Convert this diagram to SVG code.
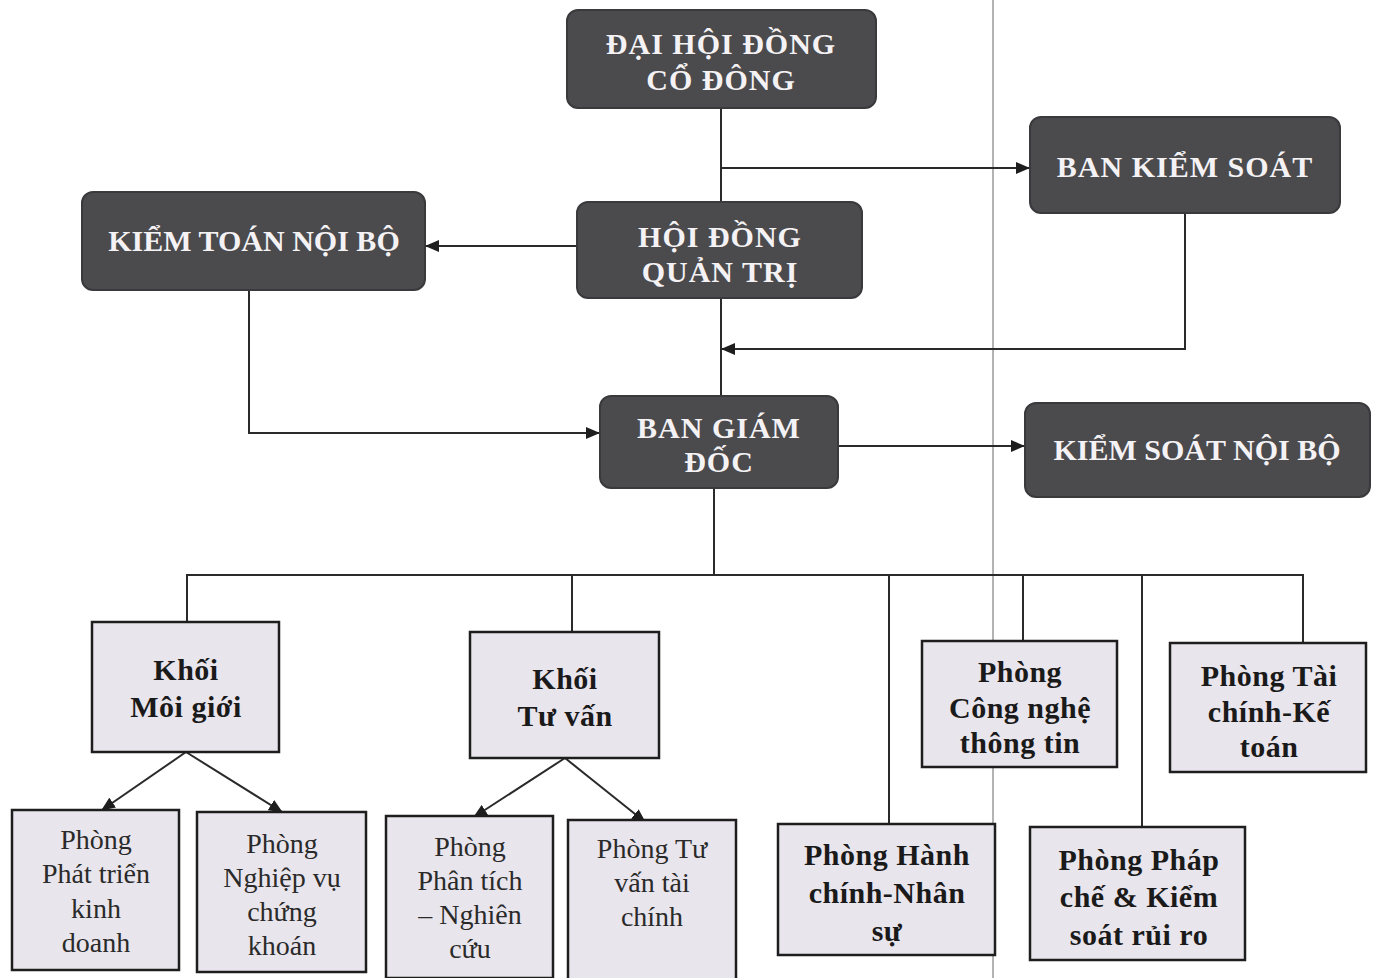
<svg xmlns="http://www.w3.org/2000/svg" width="1377" height="978" viewBox="0 0 1377 978">
<defs>
<marker id="ah" markerWidth="14" markerHeight="12" refX="13" refY="6" orient="auto" markerUnits="userSpaceOnUse">
<path d="M0,0 L14,6 L0,12 Z" fill="#1e1e1e"/>
</marker>
<style>
.dk{fill:#4b4a4d;stroke:#3a393c;stroke-width:2}
text{font-family:'Liberation Serif','DejaVu Serif',serif}
.dt{font-weight:bold;font-size:30px;fill:#f4f2f4;text-anchor:middle;letter-spacing:1px}
.ns{letter-spacing:0px}
.lt{fill:#e9e5ec;stroke:#1e1e1e;stroke-width:2.5}
.bt{font-weight:bold;font-size:30px;fill:#1a1a1a;text-anchor:middle;letter-spacing:0.5px}
.nt{font-size:28px;fill:#2a2a2a;text-anchor:middle}
.cn{fill:none;stroke:#2a2a2a;stroke-width:2}
</style>
</defs>
<rect width="1377" height="978" fill="#ffffff"/>
<line x1="993" y1="0" x2="993" y2="978" stroke="#9a9a9a" stroke-width="1.5"/>
<g id="connectors">
<path class="cn" d="M721,108 V396"/>
<path class="cn" d="M721,168 H1029" marker-end="url(#ah)"/>
<path class="cn" d="M577,246 H426" marker-end="url(#ah)"/>
<path class="cn" d="M1185,213 V349 H722" marker-end="url(#ah)"/>
<path class="cn" d="M249,290 V433 H599" marker-end="url(#ah)"/>
<path class="cn" d="M838,446 H1024" marker-end="url(#ah)"/>
<path class="cn" d="M714,488 V575"/>
<path class="cn" d="M187,622 V575 H1303 V643"/>
<path class="cn" d="M572,575 V632"/>
<path class="cn" d="M889,575 V825"/>
<path class="cn" d="M1023,575 V641"/>
<path class="cn" d="M1142,575 V828"/>
<path class="cn" d="M186,752 L102,810" marker-end="url(#ah)"/>
<path class="cn" d="M186,752 L282,812" marker-end="url(#ah)"/>
<path class="cn" d="M565,758 L474,817" marker-end="url(#ah)"/>
<path class="cn" d="M565,758 L645,822" marker-end="url(#ah)"/>
</g>
<g id="dhdcd"><rect class="dk" x="567" y="10" width="309" height="98" rx="11"/>
<text class="dt" x="721" y="54">ĐẠI HỘI ĐỒNG</text><text class="dt" x="721" y="90">CỔ ĐÔNG</text></g>
<g id="bks"><rect class="dk" x="1030" y="117" width="310" height="96" rx="11"/>
<text class="dt" x="1185" y="177">BAN KIỂM SOÁT</text></g>
<g id="ktnb"><rect class="dk" x="82" y="192" width="343" height="98" rx="11"/>
<text class="dt ns" x="254" y="251">KIỂM TOÁN NỘI BỘ</text></g>
<g id="hdqt"><rect class="dk" x="577" y="202" width="285" height="96" rx="11"/>
<text class="dt" x="720" y="247">HỘI ĐỒNG</text><text class="dt" x="720" y="282">QUẢN TRỊ</text></g>
<g id="bgd"><rect class="dk" x="600" y="396" width="238" height="92" rx="11"/>
<text class="dt" x="719" y="438">BAN GIÁM</text><text class="dt" x="719" y="472">ĐỐC</text></g>
<g id="ksnb"><rect class="dk" x="1025" y="403" width="345" height="94" rx="11"/>
<text class="dt ns" x="1197" y="460">KIỂM SOÁT NỘI BỘ</text></g>
<g id="kmg"><rect class="lt" x="92" y="622" width="187" height="130"/>
<text class="bt" x="186" y="680">Khối</text><text class="bt" x="186" y="717">Môi giới</text></g>
<g id="ktv"><rect class="lt" x="470" y="632" width="189" height="126"/>
<text class="bt" x="565" y="689">Khối</text><text class="bt" x="565" y="726">Tư vấn</text></g>
<g id="cntt"><rect class="lt" x="922" y="641" width="195" height="126"/>
<text class="bt" x="1020" y="682">Phòng</text><text class="bt" x="1020" y="718">Công nghệ</text><text class="bt" x="1020" y="753">thông tin</text></g>
<g id="tckt"><rect class="lt" x="1170" y="643" width="196" height="129"/>
<text class="bt" x="1269" y="686">Phòng Tài</text><text class="bt" x="1269" y="722">chính-Kế</text><text class="bt" x="1269" y="757">toán</text></g>
<g id="ptkd"><rect class="lt" x="12" y="810" width="167" height="160"/>
<text class="nt" x="96" y="849">Phòng</text><text class="nt" x="96" y="883">Phát triển</text><text class="nt" x="96" y="918">kinh</text><text class="nt" x="96" y="952">doanh</text></g>
<g id="nvck"><rect class="lt" x="197" y="812" width="169" height="160"/>
<text class="nt" x="282" y="853">Phòng</text><text class="nt" x="282" y="887">Nghiệp vụ</text><text class="nt" x="282" y="921">chứng</text><text class="nt" x="282" y="955">khoán</text></g>
<g id="ptnc"><rect class="lt" x="386" y="816" width="167" height="162"/>
<text class="nt" x="470" y="856">Phòng</text><text class="nt" x="470" y="890">Phân tích</text><text class="nt" x="470" y="924">– Nghiên</text><text class="nt" x="470" y="958">cứu</text></g>
<g id="tvtc"><rect class="lt" x="568" y="820" width="168" height="160"/>
<text class="nt" x="652" y="858">Phòng Tư</text><text class="nt" x="652" y="892">vấn tài</text><text class="nt" x="652" y="926">chính</text></g>
<g id="hcns"><rect class="lt" x="778" y="824" width="217" height="131"/>
<text class="bt" x="887" y="865">Phòng Hành</text><text class="bt" x="887" y="903">chính-Nhân</text><text class="bt" x="887" y="941">sự</text></g>
<g id="pcks"><rect class="lt" x="1030" y="827" width="215" height="133"/>
<text class="bt" x="1139" y="870">Phòng Pháp</text><text class="bt" x="1139" y="907">chế &amp; Kiểm</text><text class="bt" x="1139" y="945">soát rủi ro</text></g>
</svg>
